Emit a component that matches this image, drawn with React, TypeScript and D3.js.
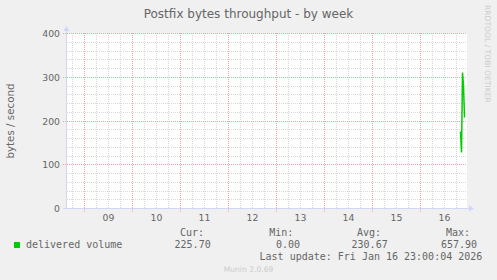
import React from "react";
import * as d3 from "d3";

const title = "Postfix bytes throughput - by week";
const yLabel = "bytes / second";
const seriesName = "delivered volume";
const timeStart = new Date(2026, 0, 8, 15, 0, 0);
const timeEnd = new Date(2026, 0, 16, 23, 0, 0);
const yTicks = [0, 100, 200, 300, 400];
const dataTimes = [
  new Date(2026, 0, 16, 20, 0),
  new Date(2026, 0, 16, 20, 30),
  new Date(2026, 0, 16, 21, 0),
  new Date(2026, 0, 16, 21, 30),
  new Date(2026, 0, 16, 22, 0),
];
const dataValues = [176, 128, 311, 281, 208];
const statLabels = ["Cur:", "Min:", "Avg:", "Max:"];
const statValues = ["225.70", "0.00", "230.67", "657.90"];
const lastUpdate = "Last update: Fri Jan 16 23:00:04 2026";
const sideText = "RRDTOOL / TOBI OETIKER";
const footer = "Munin 2.0.69";

const W = 497;
const H = 280;
const sans = "'DejaVu Sans', sans-serif";
const mono = "'DejaVu Sans Mono', monospace";

const crisp = (v: number) => Math.round(v - 0.5) + 0.5;

export default function App() {
  const x = d3.scaleTime().domain([timeStart, timeEnd]).range([66.5, 466.5]);
  const y = d3.scaleLinear().domain([0, 400]).range([208.5, 33.5]);

  const minorX = d3.timeHour.every(6)!.range(timeStart, timeEnd).filter((d) => d.getHours() !== 0);
  const majorX = d3.timeDay.range(timeStart, timeEnd);
  const labelDays = d3.timeDay
    .range(timeStart, timeEnd)
    .map((d) => d3.timeHour.offset(d, 12))
    .filter((d) => d < timeEnd);
  const minorY = d3.range(20, 401, 20).filter((v) => v % 100 !== 0);
  const majorY = yTicks.filter((v) => v > 0);

  const line = d3
    .line<number>()
    .x((_, i) => x(dataTimes[i]))
    .y((v) => y(v));

  const statValueX = [210.7, 300, 387.7, 477];
  const statLabelX = [204, 293.3, 381, 470];
  const fmt = d3.timeFormat("%d");
  const minorColor = "#d8d8d8";
  const majorColor = "#f4a4a4";

  return (
    <svg width={W} height={H} style={{ position: "absolute", left: 0, top: 0, background: "#f0f0f0" }}>
      <rect x={0} y={0} width={W} height={H} fill="#f0f0f0" />
      <rect x={67} y={33} width={400} height={175} fill="#ffffff" />
      {/* minor grid */}
      {minorX.map((d, i) => (
        <line key={"mx" + i} x1={crisp(x(d))} x2={crisp(x(d))} y1={33} y2={208} stroke={minorColor} strokeWidth={1} strokeDasharray="1,1" />
      ))}
      {minorY.map((v, i) => (
        <line key={"my" + i} x1={67} x2={467} y1={crisp(y(v))} y2={crisp(y(v))} stroke={minorColor} strokeWidth={1} strokeDasharray="1,1" />
      ))}
      {/* major grid */}
      {majorX.map((d, i) => (
        <line key={"Mx" + i} x1={crisp(x(d))} x2={crisp(x(d))} y1={33} y2={212} stroke={majorColor} strokeWidth={1} strokeDasharray="1,1" />
      ))}
      {majorY.map((v, i) => (
        <line key={"My" + i} x1={63} x2={467} y1={crisp(y(v))} y2={crisp(y(v))} stroke={majorColor} strokeWidth={1} strokeDasharray="1,1" />
      ))}
      {/* axes */}
      <line x1={66.5} x2={66.5} y1={208.5} y2={29} stroke="#cfd6f8" strokeWidth={1} />
      <path d="M63.5,31 L69.5,31 L66.5,26 Z" fill="#cfd6f8" />
      <line x1={63} x2={470} y1={208.5} y2={208.5} stroke="#cfd6f8" strokeWidth={1} />
      <path d="M469,205.5 L469,211.5 L474,208.5 Z" fill="#cfd6f8" />
      {/* y labels */}
      {yTicks.map((v, i) => (
        <text key={"yl" + i} x={60} y={y(v) + 3.5} textAnchor="end" fontFamily={sans} fontSize={9.3} fill="#666666">
          {v}
        </text>
      ))}
      {labelDays.map((d, i) => (
        <text key={"xl" + i} x={x(d)} y={221} textAnchor="middle" fontFamily={sans} fontSize={9.3} fill="#666666">
          {fmt(d)}
        </text>
      ))}
      {/* data */}
      <path d={line(dataValues) || ""} fill="none" stroke="#00cc00" strokeWidth={1.5} />
      {/* title */}
      <text x={248.5} y={18} textAnchor="middle" fontFamily={sans} fontSize={12} fill="#666666">
        {title}
      </text>
      <text transform="translate(14,121) rotate(-90)" textAnchor="middle" fontFamily={sans} fontSize={10.3} fill="#666666">
        {yLabel}
      </text>
      <text transform="translate(485,5) rotate(90)" textAnchor="start" fontFamily={sans} fontSize={7.6} fill="#cccccc">
        {sideText}
      </text>
      {/* legend */}
      <rect x={14} y={242} width={6} height={6} fill="#00cc00" />
      <text x={26} y={248} fontFamily={mono} fontSize={10} fill="#666666">
        {seriesName}
      </text>
      {statLabels.map((s, i) => (
        <text key={"sl" + i} x={statLabelX[i]} y={236} textAnchor="end" fontFamily={mono} fontSize={10} fill="#666666">
          {s}
        </text>
      ))}
      {statValues.map((s, i) => (
        <text key={"sv" + i} x={statValueX[i]} y={248} textAnchor="end" fontFamily={mono} fontSize={10} fill="#666666">
          {s}
        </text>
      ))}
      <text x={482.3} y={260} textAnchor="end" fontFamily={mono} fontSize={10} fill="#666666">
        {lastUpdate}
      </text>
      <text x={248.5} y={272} textAnchor="middle" fontFamily={sans} fontSize={7.6} fill="#cccccc">
        {footer}
      </text>
    </svg>
  );
}
